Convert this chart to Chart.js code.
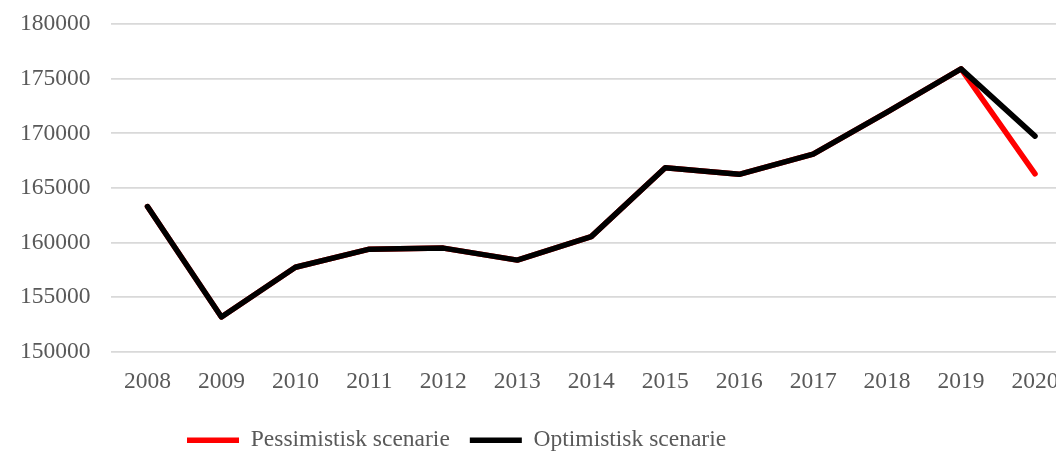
<!DOCTYPE html>
<html>
<head>
<meta charset="utf-8">
<script src="https://cdn.jsdelivr.net/npm/chart.js@4/dist/chart.umd.min.js"></script>
<style>
  html, body { margin: 0; padding: 0; background: #fff; overflow: hidden; }
  /* plot runs past the right edge and a little above the top, like the original crop */
  #wrap { width: 1080px; height: 472px; margin-top: -10px; }
</style>
</head>
<body>
<div id="wrap"><canvas id="scenarios"></canvas></div>
<script>
'use strict';

// data
const years = ['2008', '2009', '2010', '2011', '2012', '2013', '2014', '2015', '2016', '2017', '2018', '2019', '2020'];
const pessimistic = [163300, 153200, 157750, 159400, 159500, 158400, 160550, 166850, 166250, 168100, 171950, 175900, 166300];
const optimistic  = [163300, 153200, 157750, 159400, 159500, 158400, 160550, 166850, 166250, 168100, 171950, 175900, 169750];
const seriesNames = ['Pessimistisk scenarie', 'Optimistisk scenarie'];
const yMin = 150000;
const yMax = 180000;
const yStep = 5000;

const FONT = '"Liberation Serif", "Times New Roman", serif';
const TEXT = '#595959';
const GRID = '#d9d9d9';
const LEGEND_LEFT = 167; // legend sits left of centre in the original

// move the legend row to where the original has it
const legendOffset = {
  id: 'legendOffset',
  afterLayout(chart) {
    const lg = chart.legend;
    if (!lg) return;
    const w = lg.right - lg.left;
    lg.left = LEGEND_LEFT;
    lg.right = LEGEND_LEFT + w;
  }
};

const lineStyle = (color) => ({
  borderColor: color,
  backgroundColor: color,
  borderWidth: 5.5,
  borderCapStyle: 'round',
  borderJoinStyle: 'round',
  pointRadius: 0,
  pointHoverRadius: 0,
  tension: 0,
  fill: false
});

new Chart(document.getElementById('scenarios'), {
  type: 'line',
  data: {
    labels: years,
    datasets: [
      { label: seriesNames[0], data: pessimistic, order: 1, ...lineStyle('#ff0000') },
      { label: seriesNames[1], data: optimistic, order: 0, ...lineStyle('#000000') }
    ]
  },
  options: {
    responsive: true,
    maintainAspectRatio: false,
    animation: false,
    layout: { padding: { top: 0, left: 0, right: 8, bottom: 0 } },
    plugins: {
      tooltip: { enabled: false },
      legend: {
        position: 'bottom',
        align: 'start',
        labels: {
          usePointStyle: true,
          pointStyle: 'line',
          pointStyleWidth: 52,
          padding: 20,
          color: TEXT,
          font: { family: FONT, size: 23.5 },
          sort: (a, b) => a.datasetIndex - b.datasetIndex
        }
      }
    },
    scales: {
      x: {
        type: 'category',
        offset: true,
        grid: { display: false, drawTicks: false },
        border: { display: false },
        ticks: {
          color: TEXT,
          font: { family: FONT, size: 23.5 },
          padding: 16,
          maxRotation: 0,
          autoSkip: false
        },
        afterFit: (scale) => { scale.height -= 3.6; }
      },
      y: {
        min: yMin,
        max: yMax,
        grid: { color: GRID, lineWidth: 1.8, drawTicks: false },
        border: { display: false },
        ticks: {
          stepSize: yStep,
          color: TEXT,
          font: { family: FONT, size: 23.5 },
          padding: 20,
          callback: (v) => String(v)
        }
      }
    }
  },
  plugins: [legendOffset]
});
</script>
</body>
</html>
